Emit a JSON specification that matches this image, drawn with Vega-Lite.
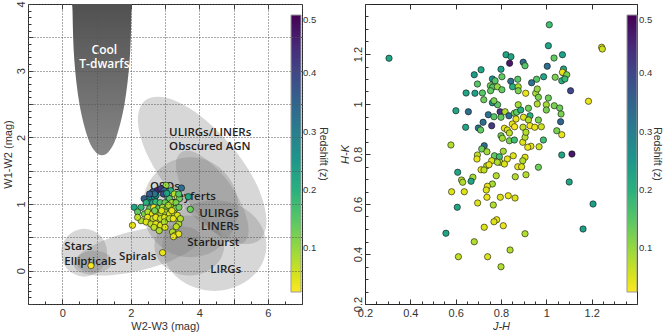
{
"$schema": "https://vega.github.io/schema/vega-lite/v6.json",
"padding": {"left": 1, "top": 0, "right": 0, "bottom": 0},
"spacing": 9,
"datasets": {
"tdwarf": [
{"i":0,"x":0.30,"y":4.6},{"i":1,"x":0.30,"y":3.90},{"i":2,"x":0.352,"y":3.158},{"i":3,"x":0.501,"y":2.505},{"i":4,"x":0.73,"y":2.021},{"i":5,"x":0.937,"y":1.804},{"i":6,"x":1.16,"y":1.73},{"i":7,"x":1.383,"y":1.804},{"i":8,"x":1.59,"y":2.021},{"i":9,"x":1.819,"y":2.505},{"i":10,"x":1.968,"y":3.158},{"i":11,"x":2.02,"y":3.90},{"i":12,"x":2.02,"y":4.6}
],
"regions": [
{"s":"A","i":0,"x":5.76,"y":0.46},{"s":"A","i":1,"x":5.11,"y":0.42},{"s":"A","i":2,"x":4.18,"y":0.67},{"s":"A","i":3,"x":3.23,"y":1.14},{"s":"A","i":4,"x":2.51,"y":1.71},{"s":"A","i":5,"x":2.21,"y":2.22},{"s":"A","i":6,"x":2.41,"y":2.55},{"s":"A","i":7,"x":3.07,"y":2.59},{"s":"A","i":8,"x":3.99,"y":2.34},{"s":"A","i":9,"x":4.94,"y":1.87},{"s":"A","i":10,"x":5.67,"y":1.30},{"s":"A","i":11,"x":5.96,"y":0.78},
{"s":"B","i":0,"x":5.14,"y":0.95},{"s":"B","i":1,"x":4.95,"y":1.325},{"s":"B","i":2,"x":4.44,"y":1.60},{"s":"B","i":3,"x":3.74,"y":1.70},{"s":"B","i":4,"x":3.04,"y":1.60},{"s":"B","i":5,"x":2.53,"y":1.325},{"s":"B","i":6,"x":2.34,"y":0.95},{"s":"B","i":7,"x":2.53,"y":0.575},{"s":"B","i":8,"x":3.04,"y":0.30},{"s":"B","i":9,"x":3.74,"y":0.20},{"s":"B","i":10,"x":4.44,"y":0.30},{"s":"B","i":11,"x":4.95,"y":0.575},
{"s":"C","i":0,"x":5.96,"y":0.376},{"s":"C","i":1,"x":5.76,"y":0.716},{"s":"C","i":2,"x":5.20,"y":0.965},{"s":"C","i":3,"x":4.44,"y":1.056},{"s":"C","i":4,"x":3.68,"y":0.965},{"s":"C","i":5,"x":3.12,"y":0.716},{"s":"C","i":6,"x":2.92,"y":0.376},{"s":"C","i":7,"x":3.12,"y":0.036},{"s":"C","i":8,"x":3.68,"y":-0.213},{"s":"C","i":9,"x":4.44,"y":-0.304},{"s":"C","i":10,"x":5.20,"y":-0.213},{"s":"C","i":11,"x":5.76,"y":0.036},
{"s":"D","i":0,"x":5.30,"y":0.42},{"s":"D","i":1,"x":4.92,"y":0.42},{"s":"D","i":2,"x":4.39,"y":0.60},{"s":"D","i":3,"x":3.85,"y":0.91},{"s":"D","i":4,"x":3.46,"y":1.27},{"s":"D","i":5,"x":3.32,"y":1.59},{"s":"D","i":6,"x":3.46,"y":1.77},{"s":"D","i":7,"x":3.84,"y":1.78},{"s":"D","i":8,"x":4.37,"y":1.60},{"s":"D","i":9,"x":4.91,"y":1.29},{"s":"D","i":10,"x":5.30,"y":0.92},{"s":"D","i":11,"x":5.44,"y":0.61},
{"s":"E","i":0,"x":4.73,"y":0.376},{"s":"E","i":1,"x":4.59,"y":0.60},{"s":"E","i":2,"x":4.22,"y":0.766},{"s":"E","i":3,"x":3.71,"y":0.826},{"s":"E","i":4,"x":3.20,"y":0.766},{"s":"E","i":5,"x":2.83,"y":0.60},{"s":"E","i":6,"x":2.69,"y":0.376},{"s":"E","i":7,"x":2.83,"y":0.151},{"s":"E","i":8,"x":3.20,"y":-0.014},{"s":"E","i":9,"x":3.71,"y":-0.074},{"s":"E","i":10,"x":4.22,"y":-0.014},{"s":"E","i":11,"x":4.59,"y":0.151},
{"s":"F","i":0,"x":4.03,"y":0.53},{"s":"F","i":1,"x":3.86,"y":0.355},{"s":"F","i":2,"x":3.23,"y":0.16},{"s":"F","i":3,"x":2.33,"y":0.01},{"s":"F","i":4,"x":1.39,"y":-0.07},{"s":"F","i":5,"x":0.66,"y":-0.045},{"s":"F","i":6,"x":0.34,"y":0.07},{"s":"F","i":7,"x":0.52,"y":0.25},{"s":"F","i":8,"x":1.15,"y":0.44},{"s":"F","i":9,"x":2.05,"y":0.59},{"s":"F","i":10,"x":2.99,"y":0.67},{"s":"F","i":11,"x":3.72,"y":0.65},
{"s":"G","i":0,"x":1.31,"y":0.27},{"s":"G","i":1,"x":1.22,"y":0.45},{"s":"G","i":2,"x":0.975,"y":0.58},{"s":"G","i":3,"x":0.64,"y":0.63},{"s":"G","i":4,"x":0.305,"y":0.58},{"s":"G","i":5,"x":0.06,"y":0.45},{"s":"G","i":6,"x":-0.03,"y":0.27},{"s":"G","i":7,"x":0.06,"y":0.09},{"s":"G","i":8,"x":0.305,"y":-0.04},{"s":"G","i":9,"x":0.64,"y":-0.09},{"s":"G","i":10,"x":0.975,"y":-0.04},{"s":"G","i":11,"x":1.22,"y":0.09},
{"s":"H","i":0,"x":1.46,"y":0.135},{"s":"H","i":1,"x":1.39,"y":0.218},{"s":"H","i":2,"x":1.195,"y":0.278},{"s":"H","i":3,"x":0.93,"y":0.30},{"s":"H","i":4,"x":0.665,"y":0.278},{"s":"H","i":5,"x":0.47,"y":0.218},{"s":"H","i":6,"x":0.40,"y":0.135},{"s":"H","i":7,"x":0.47,"y":0.052},{"s":"H","i":8,"x":0.665,"y":-0.008},{"s":"H","i":9,"x":0.93,"y":-0.03},{"s":"H","i":10,"x":1.195,"y":-0.008},{"s":"H","i":11,"x":1.39,"y":0.052}
],
"labels": [
{"t":"ULIRGs/LINERs","x":3.12,"y":2.06},{"t":"Obscured AGN","x":3.12,"y":1.85},{"t":"QSOs","x":2.56,"y":1.25},{"t":"Seyferts","x":3.17,"y":1.11},{"t":"ULIRGs","x":4.0,"y":0.85},{"t":"LINERs","x":4.05,"y":0.65},{"t":"Starburst","x":3.65,"y":0.41},{"t":"LIRGs","x":4.32,"y":0.015},{"t":"Spirals","x":1.66,"y":0.21},{"t":"Stars","x":0.06,"y":0.36},{"t":"Ellipticals","x":0.06,"y":0.125}
],
"wlabels": [
{"t":"Cool","x":1.23,"y":3.31},{"t":"T-dwarfs","x":1.23,"y":3.10}
],
"wise": [
{"x":3.03,"y":1.28,"z":0.10},{"x":3.48,"y":1.24,"z":0.33},{"x":2.76,"y":1.20,"z":0.45},{"x":2.88,"y":1.23,"z":0.42},{"x":2.97,"y":1.20,"z":0.35},{"x":2.64,"y":1.18,"z":0.38},{"x":3.17,"y":1.20,"z":0.20},{"x":3.27,"y":1.15,"z":0.08},{"x":3.68,"y":1.11,"z":0.22},{"x":2.54,"y":1.10,"z":0.28},{"x":2.39,"y":1.08,"z":0.35},{"x":2.70,"y":1.10,"z":0.25},{"x":2.74,"y":1.13,"z":0.24},{"x":3.08,"y":1.10,"z":0.20},{"x":3.13,"y":1.08,"z":0.15},{"x":3.37,"y":1.10,"z":0.03},{"x":3.42,"y":1.08,"z":0.13},{"x":2.49,"y":1.03,"z":0.22},{"x":2.64,"y":1.02,"z":0.22},{"x":2.73,"y":1.03,"z":0.18},{"x":2.86,"y":1.02,"z":0.15},{"x":3.00,"y":1.02,"z":0.13},{"x":3.20,"y":1.02,"z":0.08},{"x":3.32,"y":1.02,"z":0.12},{"x":2.30,"y":0.95,"z":0.18},{"x":2.10,"y":0.95,"z":0.22},{"x":2.55,"y":0.93,"z":0.14},{"x":2.67,"y":0.95,"z":0.04},{"x":2.80,"y":0.93,"z":0.13},{"x":2.93,"y":0.95,"z":0.09},{"x":3.05,"y":0.93,"z":0.12},{"x":3.17,"y":0.95,"z":0.07},{"x":3.30,"y":0.93,"z":0.12},{"x":3.41,"y":0.95,"z":0.13},{"x":3.74,"y":0.92,"z":0.13},{"x":2.20,"y":0.88,"z":0.14},{"x":2.40,"y":0.85,"z":0.12},{"x":2.50,"y":0.88,"z":0.08},{"x":2.63,"y":0.85,"z":0.04},{"x":2.75,"y":0.86,"z":0.05},{"x":2.88,"y":0.85,"z":0.08},{"x":3.00,"y":0.88,"z":0.09},{"x":3.13,"y":0.85,"z":0.05},{"x":3.26,"y":0.86,"z":0.08},{"x":3.36,"y":0.83,"z":0.05},{"x":2.49,"y":0.80,"z":0.04},{"x":2.65,"y":0.78,"z":0.07},{"x":2.73,"y":0.80,"z":0.04},{"x":2.87,"y":0.78,"z":0.07},{"x":2.99,"y":0.80,"z":0.05},{"x":3.13,"y":0.78,"z":0.08},{"x":3.24,"y":0.78,"z":0.04},{"x":2.30,"y":0.75,"z":0.08},{"x":2.45,"y":0.73,"z":0.05},{"x":2.59,"y":0.70,"z":0.07},{"x":2.73,"y":0.70,"z":0.04},{"x":2.87,"y":0.68,"z":0.05},{"x":2.98,"y":0.73,"z":0.08},{"x":2.68,"y":0.65,"z":0.07},{"x":2.83,"y":0.60,"z":0.08},{"x":3.00,"y":0.65,"z":0.05},{"x":3.40,"y":0.70,"z":0.08},{"x":3.22,"y":0.58,"z":0.08},{"x":3.29,"y":0.53,"z":0.04},{"x":3.40,"y":0.55,"z":0.04},{"x":3.25,"y":0.51,"z":0.04},{"x":2.05,"y":0.68,"z":0.04},{"x":2.93,"y":0.27,"z":0.04},{"x":0.84,"y":0.075,"z":0.03},{"x":2.20,"y":0.80,"z":0.07},{"x":2.95,"y":1.15,"z":0.40},{"x":2.70,"y":1.15,"z":0.32},{"x":2.55,"y":1.15,"z":0.36},{"x":3.05,"y":1.16,"z":0.22},{"x":3.40,"y":1.15,"z":0.15},{"x":2.45,"y":1.02,"z":0.20},{"x":3.10,"y":0.98,"z":0.08},{"x":3.20,"y":0.90,"z":0.04},{"x":2.90,"y":0.90,"z":0.05},{"x":2.70,"y":0.90,"z":0.12},{"x":3.45,"y":0.78,"z":0.08},{"x":3.33,"y":0.66,"z":0.07}
],
"nir": [
{"x":0.306,"y":1.183,"z":0.22},{"x":1.013,"y":1.317,"z":0.17},{"x":1.009,"y":1.233,"z":0.22},{"x":1.244,"y":1.227,"z":0.04},{"x":1.247,"y":1.22,"z":0.06},{"x":0.822,"y":1.197,"z":0.22},{"x":0.844,"y":1.189,"z":0.22},{"x":0.838,"y":1.163,"z":0.47},{"x":0.898,"y":1.167,"z":0.33},{"x":0.906,"y":1.153,"z":0.15},{"x":1.071,"y":1.197,"z":0.23},{"x":1.034,"y":1.184,"z":0.14},{"x":1.004,"y":1.151,"z":0.33},{"x":1.076,"y":1.14,"z":0.22},{"x":1.076,"y":1.123,"z":0.2},{"x":1.071,"y":1.127,"z":0.04},{"x":1.09,"y":1.117,"z":0.12},{"x":1.039,"y":1.107,"z":0.12},{"x":1.068,"y":1.093,"z":0.2},{"x":1.082,"y":1.1,"z":0.18},{"x":0.988,"y":1.109,"z":0.22},{"x":0.957,"y":1.099,"z":0.15},{"x":0.935,"y":1.085,"z":0.32},{"x":0.712,"y":1.137,"z":0.22},{"x":0.682,"y":1.117,"z":0.24},{"x":0.696,"y":1.08,"z":0.15},{"x":0.8,"y":1.139,"z":0.23},{"x":0.804,"y":1.109,"z":0.14},{"x":0.762,"y":1.1,"z":0.26},{"x":0.774,"y":1.093,"z":0.15},{"x":0.874,"y":1.099,"z":0.15},{"x":0.843,"y":1.091,"z":0.33},{"x":0.851,"y":1.069,"z":0.2},{"x":0.876,"y":1.069,"z":0.08},{"x":0.876,"y":1.053,"z":0.12},{"x":0.753,"y":1.073,"z":0.13},{"x":0.763,"y":1.067,"z":0.15},{"x":0.784,"y":1.069,"z":0.1},{"x":0.754,"y":1.053,"z":0.14},{"x":0.804,"y":1.057,"z":0.14},{"x":0.646,"y":1.044,"z":0.22},{"x":0.685,"y":1.043,"z":0.23},{"x":0.718,"y":1.044,"z":0.15},{"x":0.724,"y":1.017,"z":0.13},{"x":0.762,"y":1.005,"z":0.26},{"x":0.785,"y":0.997,"z":0.15},{"x":0.769,"y":1.013,"z":0.12},{"x":0.909,"y":1.043,"z":0.04},{"x":0.953,"y":1.043,"z":0.09},{"x":0.96,"y":1.06,"z":0.1},{"x":0.965,"y":1.027,"z":0.12},{"x":1.009,"y":1.024,"z":0.13},{"x":1.107,"y":1.053,"z":0.4},{"x":1.186,"y":1.011,"z":0.04},{"x":0.601,"y":0.973,"z":0.22},{"x":0.656,"y":0.969,"z":0.33},{"x":0.876,"y":0.997,"z":0.09},{"x":0.921,"y":0.983,"z":0.13},{"x":0.96,"y":1.0,"z":0.08},{"x":1.0,"y":0.997,"z":0.09},{"x":1.0,"y":0.976,"z":0.12},{"x":1.035,"y":0.993,"z":0.12},{"x":1.059,"y":0.984,"z":0.13},{"x":1.065,"y":0.96,"z":0.12},{"x":1.063,"y":0.929,"z":0.35},{"x":0.796,"y":0.969,"z":0.43},{"x":0.818,"y":0.969,"z":0.08},{"x":0.835,"y":0.953,"z":0.33},{"x":0.859,"y":0.963,"z":0.13},{"x":0.869,"y":0.967,"z":0.14},{"x":0.887,"y":0.976,"z":0.2},{"x":0.928,"y":0.953,"z":0.2},{"x":0.744,"y":0.957,"z":0.32},{"x":0.769,"y":0.949,"z":0.15},{"x":0.8,"y":0.947,"z":0.14},{"x":0.721,"y":0.927,"z":0.33},{"x":0.759,"y":0.913,"z":0.42},{"x":0.7,"y":0.904,"z":0.32},{"x":0.71,"y":0.896,"z":0.14},{"x":0.644,"y":0.907,"z":0.22},{"x":0.866,"y":0.94,"z":0.04},{"x":0.899,"y":0.947,"z":0.05},{"x":0.921,"y":0.936,"z":0.08},{"x":0.965,"y":0.936,"z":0.12},{"x":0.85,"y":0.92,"z":0.04},{"x":0.86,"y":0.909,"z":0.03},{"x":0.897,"y":0.907,"z":0.07},{"x":0.928,"y":0.913,"z":0.03},{"x":0.949,"y":0.907,"z":0.04},{"x":0.978,"y":0.909,"z":0.06},{"x":0.815,"y":0.903,"z":0.04},{"x":0.828,"y":0.896,"z":0.05},{"x":0.837,"y":0.884,"z":0.07},{"x":0.8,"y":0.873,"z":0.13},{"x":0.806,"y":0.863,"z":0.09},{"x":0.837,"y":0.853,"z":0.12},{"x":0.859,"y":0.856,"z":0.17},{"x":0.896,"y":0.847,"z":0.05},{"x":0.906,"y":0.867,"z":0.08},{"x":0.91,"y":0.887,"z":0.08},{"x":0.932,"y":0.831,"z":0.04},{"x":0.918,"y":0.827,"z":0.04},{"x":0.968,"y":0.829,"z":0.06},{"x":0.987,"y":0.856,"z":0.17},{"x":1.068,"y":0.877,"z":0.04},{"x":1.046,"y":0.893,"z":0.12},{"x":1.113,"y":0.8,"z":0.47},{"x":1.068,"y":0.796,"z":0.22},{"x":0.726,"y":0.833,"z":0.33},{"x":0.715,"y":0.82,"z":0.13},{"x":0.738,"y":0.809,"z":0.09},{"x":0.696,"y":0.796,"z":0.07},{"x":0.694,"y":0.78,"z":0.04},{"x":0.579,"y":0.836,"z":0.08},{"x":0.771,"y":0.793,"z":0.14},{"x":0.793,"y":0.789,"z":0.17},{"x":0.81,"y":0.811,"z":0.09},{"x":0.828,"y":0.78,"z":0.04},{"x":0.854,"y":0.793,"z":0.05},{"x":0.796,"y":0.767,"z":0.08},{"x":0.759,"y":0.773,"z":0.05},{"x":0.784,"y":0.767,"z":0.08},{"x":0.815,"y":0.76,"z":0.05},{"x":0.906,"y":0.787,"z":0.05},{"x":0.896,"y":0.773,"z":0.08},{"x":0.965,"y":0.747,"z":0.13},{"x":0.737,"y":0.753,"z":0.08},{"x":0.747,"y":0.757,"z":0.04},{"x":0.712,"y":0.737,"z":0.04},{"x":0.725,"y":0.736,"z":0.07},{"x":0.874,"y":0.749,"z":0.04},{"x":0.891,"y":0.749,"z":0.05},
{"x":0.609,"y":0.727,"z":0.22},{"x":0.626,"y":0.696,"z":0.08},{"x":0.631,"y":0.687,"z":0.08},{"x":0.676,"y":0.707,"z":0.09},{"x":0.668,"y":0.691,"z":0.22},{"x":0.779,"y":0.713,"z":0.08},{"x":0.762,"y":0.68,"z":0.09},{"x":0.74,"y":0.671,"z":0.04},{"x":0.735,"y":0.656,"z":0.05},{"x":0.863,"y":0.709,"z":0.08},{"x":0.91,"y":0.717,"z":0.08},{"x":0.582,"y":0.649,"z":0.05},{"x":0.638,"y":0.649,"z":0.05},{"x":0.738,"y":0.627,"z":0.04},{"x":0.797,"y":0.627,"z":0.05},{"x":0.832,"y":0.633,"z":0.04},{"x":0.862,"y":0.624,"z":0.05},{"x":1.101,"y":0.688,"z":0.22},{"x":1.206,"y":0.6,"z":0.23},{"x":0.607,"y":0.587,"z":0.22},{"x":0.697,"y":0.604,"z":0.05},{"x":0.766,"y":0.596,"z":0.08},{"x":0.781,"y":0.537,"z":0.04},{"x":0.769,"y":0.529,"z":0.05},{"x":0.81,"y":0.513,"z":0.04},{"x":0.726,"y":0.507,"z":0.05},{"x":0.557,"y":0.483,"z":0.22},{"x":0.906,"y":0.481,"z":0.08},{"x":1.162,"y":0.5,"z":0.23},{"x":0.682,"y":0.449,"z":0.08},{"x":0.84,"y":0.416,"z":0.08},{"x":0.612,"y":0.389,"z":0.07},{"x":0.741,"y":0.389,"z":0.05},{"x":0.8,"y":0.349,"z":0.08}
]
},
"hconcat": [
{
"width": 274, "height": 300,
"layer": [
{"data": {"name": "tdwarf"},
 "mark": {"type": "line", "interpolate": "cardinal-closed", "fill": {"gradient": "linear", "x1": 0, "y1": 0, "x2": 0, "y2": 1, "stops": [{"offset": 0, "color": "#404040"}, {"offset": 1, "color": "#878787"}]}, "strokeOpacity": 0, "clip": true},
 "encoding": {
  "x": {"field": "x", "type": "quantitative", "scale": {"domain": [-1, 7], "nice": false, "zero": false},
        "axis": {"title": "W2-W3 (mag)", "values": [-1,0,1,2,3,4,5,6,7], "format": "~g", "labelExpr": "datum.value % 2 === 0 ? datum.label : ''", "ticks": false, "grid": true, "gridDash": [1,2], "gridColor": "#555", "gridOpacity": 1, "zindex": 1, "labelPadding": 3, "titlePadding": 2}},
  "y": {"field": "y", "type": "quantitative", "scale": {"domain": [-0.5, 4], "nice": false, "zero": false},
        "axis": {"title": "W1-W2 (mag)", "values": [-0.5,0,0.5,1,1.5,2,2.5,3,3.5,4], "format": "~g", "labelExpr": "datum.value % 1 === 0 ? datum.label : ''", "ticks": false, "grid": true, "gridDash": [1,2], "gridColor": "#555", "gridOpacity": 1, "zindex": 1, "labelAngle": -90, "labelPadding": 2, "titlePadding": 2}},
  "order": {"field": "i", "type": "quantitative"}
 }},
{"data": {"name": "regions"},
 "mark": {"type": "line", "interpolate": "cardinal-closed", "fill": "#7a7a7a", "fillOpacity": 0.3, "strokeOpacity": 0, "clip": true},
 "encoding": {
  "x": {"field": "x", "type": "quantitative", "axis": {"orient": "top", "values": [-1,0,1,2,3,4,5,6,7], "labels": false, "title": null, "grid": false, "tickSize": -5}},
  "y": {"field": "y", "type": "quantitative", "axis": {"orient": "right", "values": [-0.5,0,0.5,1,1.5,2,2.5,3,3.5,4], "labels": false, "title": null, "grid": false, "tickSize": -5}},
  "detail": {"field": "s", "type": "nominal"},
  "order": {"field": "i", "type": "quantitative"}
 }},
{"data": {"name": "labels"},
 "mark": {"type": "text", "align": "left", "baseline": "middle", "font": "Open Sans", "fontSize": 11.5, "fontWeight": 600, "color": "#1e1e1e"},
 "encoding": {
  "x": {"field": "x", "type": "quantitative", "axis": {"orient": "bottom", "values": [-1,0,1,2,3,4,5,6,7], "labels": false, "title": null, "grid": false, "tickSize": -5}},
  "y": {"field": "y", "type": "quantitative", "axis": {"orient": "left", "values": [-0.5,0,0.5,1,1.5,2,2.5,3,3.5,4], "labels": false, "title": null, "grid": false, "tickSize": -5}},
  "text": {"field": "t"}
 }},
{"data": {"name": "wlabels"},
 "mark": {"type": "text", "align": "center", "baseline": "middle", "font": "Open Sans", "fontSize": 12, "fontWeight": 600, "color": "#ffffff"},
 "encoding": {
  "x": {"field": "x", "type": "quantitative", "axis": {"orient": "bottom", "values": [-0.5,0.5,1.5,2.5,3.5,4.5,5.5,6.5], "labels": false, "title": null, "grid": false, "tickSize": -3}},
  "y": {"field": "y", "type": "quantitative", "axis": {"orient": "left", "values": [-0.4,-0.3,-0.2,-0.1,0.1,0.2,0.3,0.4,0.6,0.7,0.8,0.9,1.1,1.2,1.3,1.4,1.6,1.7,1.8,1.9,2.1,2.2,2.3,2.4,2.6,2.7,2.8,2.9,3.1,3.2,3.3,3.4,3.6,3.7,3.8,3.9], "labels": false, "title": null, "grid": false, "tickSize": -3}},
  "text": {"field": "t"}
 }},
{"data": {"name": "wise"},
 "mark": {"type": "circle", "size": 40, "stroke": "#111", "strokeWidth": 0.6, "opacity": 1, "clip": true},
 "encoding": {
  "x": {"field": "x", "type": "quantitative", "axis": null},
  "y": {"field": "y", "type": "quantitative", "axis": null},
  "color": {"field": "z", "type": "quantitative", "scale": {"scheme": "viridis", "reverse": true, "domain": [0.025, 0.5]},
   "legend": {"orient": "none", "legendX": 263, "legendY": 11, "direction": "vertical", "gradientLength": 277, "gradientThickness": 10, "values": [0.1,0.2,0.3,0.4,0.5], "labelFontSize": 9.5, "labelOffset": 2, "labelBaseline": "middle", "title": "Redshift (z)", "titleOrient": "right", "titleAnchor": "middle", "titleFontSize": 10.5, "titleFontWeight": "normal", "titlePadding": 2, "gradientStrokeColor": "#999", "gradientStrokeWidth": 1}}
 }}
],
"resolve": {"axis": {"x": "independent", "y": "independent"}}
},
{
"width": 272, "height": 300,
"layer": [
{"data": {"name": "nir"},
 "mark": {"type": "circle", "size": 40, "stroke": "#111", "strokeWidth": 0.6, "opacity": 1, "clip": true},
 "encoding": {
  "x": {"field": "x", "type": "quantitative", "scale": {"domain": [0.2, 1.4], "nice": false, "zero": false},
        "axis": {"title": "J-H", "titleFontStyle": "italic", "values": [0.2,0.4,0.6,0.8,1,1.2], "format": "~g", "ticks": false, "grid": false, "labelPadding": 3, "titlePadding": 2}},
  "y": {"field": "y", "type": "quantitative", "scale": {"domain": [0.2, 1.4], "nice": false, "zero": false},
        "axis": {"title": "H-K", "titleFontStyle": "italic", "values": [0.2,0.4,0.6,0.8,1,1.2], "format": "~g", "ticks": false, "grid": false, "labelAngle": -90, "labelPadding": 2, "titlePadding": 2}},
  "color": {"field": "z", "type": "quantitative", "scale": {"scheme": "viridis", "reverse": true, "domain": [0.025, 0.5]},
   "legend": {"orient": "none", "legendX": 262, "legendY": 11, "direction": "vertical", "gradientLength": 277, "gradientThickness": 10, "values": [0.1,0.2,0.3,0.4,0.5], "labelFontSize": 9.5, "labelOffset": 2, "labelBaseline": "middle", "title": "Redshift (z)", "titleOrient": "right", "titleAnchor": "middle", "titleFontSize": 10.5, "titleFontWeight": "normal", "titlePadding": 0, "gradientStrokeColor": "#999", "gradientStrokeWidth": 1}}
 }},
{"data": {"name": "nir"},
 "mark": {"type": "point", "opacity": 0},
 "encoding": {
  "x": {"field": "x", "type": "quantitative", "axis": {"orient": "top", "values": [0.2,0.4,0.6,0.8,1,1.2,1.4], "labels": false, "title": null, "grid": false, "tickSize": -5}},
  "y": {"field": "y", "type": "quantitative", "axis": {"orient": "right", "values": [0.2,0.4,0.6,0.8,1,1.2,1.4], "labels": false, "title": null, "grid": false, "tickSize": -5}}
 }},
{"data": {"name": "nir"},
 "mark": {"type": "point", "opacity": 0},
 "encoding": {
  "x": {"field": "x", "type": "quantitative", "axis": {"orient": "bottom", "values": [0.2,0.4,0.6,0.8,1,1.2,1.4], "labels": false, "title": null, "grid": false, "tickSize": -5}},
  "y": {"field": "y", "type": "quantitative", "axis": {"orient": "left", "values": [0.2,0.4,0.6,0.8,1,1.2,1.4], "labels": false, "title": null, "grid": false, "tickSize": -5}}
 }},
{"data": {"name": "nir"},
 "mark": {"type": "point", "opacity": 0},
 "encoding": {
  "x": {"field": "x", "type": "quantitative", "axis": {"orient": "bottom", "values": [0.25,0.3,0.35,0.45,0.5,0.55,0.65,0.7,0.75,0.85,0.9,0.95,1.05,1.1,1.15,1.25,1.3,1.35], "labels": false, "title": null, "grid": false, "tickSize": -3}},
  "y": {"field": "y", "type": "quantitative", "axis": {"orient": "left", "values": [0.25,0.3,0.35,0.45,0.5,0.55,0.65,0.7,0.75,0.85,0.9,0.95,1.05,1.1,1.15,1.25,1.3,1.35], "labels": false, "title": null, "grid": false, "tickSize": -3}}
 }}
],
"resolve": {"axis": {"x": "independent", "y": "independent"}}
}
],
"resolve": {"scale": {"color": "independent", "x": "independent", "y": "independent"}, "legend": {"color": "independent"}},
"config": {
 "font": "Liberation Sans",
 "view": {"stroke": "#222", "strokeWidth": 1},
 "axis": {"labelFont": "Liberation Sans", "labelFontSize": 11, "labelColor": "#333", "titleFont": "Liberation Sans", "titleFontSize": 11, "titleFontWeight": "normal", "titleColor": "#333", "domain": false, "tickColor": "#333", "labelFlush": false, "labelOverlap": false},
 "legend": {"labelFont": "Liberation Sans", "titleFont": "Liberation Sans", "labelColor": "#333", "titleColor": "#333"}
}
}
